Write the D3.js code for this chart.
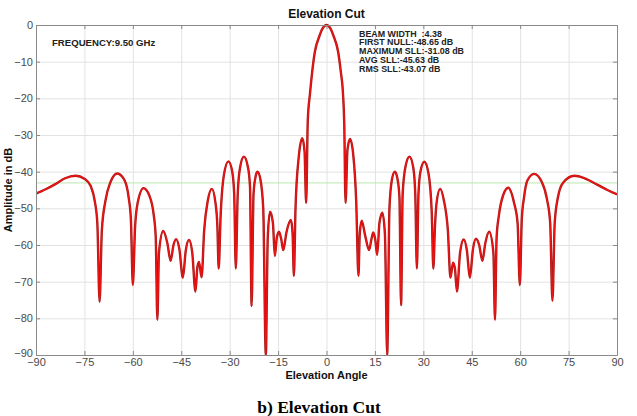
<!DOCTYPE html>
<html>
<head>
<meta charset="utf-8">
<script src="https://cdn.jsdelivr.net/npm/d3@7"></script>
<style>
  html, body { margin: 0; padding: 0; background: #fff; }
  svg { display: block; }
</style>
</head>
<body>
<svg id="chart" width="637" height="416"></svg>
<script>
// Elevation-cut radiation pattern: angle (deg) vs. normalised amplitude (dB)
const angles = [
  -90, -87, -84, -81, -77.7, -75, -73, -71.8, -71.0, -70.3, -69.6, -68.5, -67, -64.8, -62.5, -61.3, -60.6, -60.0,
  -59.3, -58.5, -56.7, -54.9, -53.5, -52.9, -52.4, -51.9, -50.6, -49.3, -48.3, -47.4, -46.6, -45.6, -44.5,
  -43.6, -42.6, -41.6, -40.6, -40.0, -39.5, -38.7, -37.9, -36.8, -35.5, -34.4, -33.8, -33.4, -32.8, -31.8,
  -30.4, -29.2, -28.6, -28.1, -27.5, -26.8, -25.6, -24.4, -23.7, -23.2, -22.6, -22.0, -21.4, -20.5, -19.6,
  -18.8, -18.2, -17.5, -16.6, -16.0, -15.4, -14.7, -14.0, -13.4, -12.4, -11.0, -10.5, -10.1, -9.6, -8.6,
  -7.5, -6.8, -6.3, -5.8, -5.1, -4.4, -3.6, -2.19, -1.2, 0,
  1.2, 2.19, 3.6, 4.4, 5.1, 5.5, 5.9, 6.5, 7.3, 8.3, 9.2, 9.9, 10.3, 10.9, 12.0, 13.2, 13.9, 14.5, 15.1,
  15.7, 16.4, 17.3, 18.1, 18.8, 19.5, 20.3, 21.2, 22.0, 22.6, 23.1, 23.6, 24.5, 25.7, 26.9, 27.5, 28.0,
  28.5, 29.1, 30.3, 31.6, 32.6, 33.1, 33.6, 34.1, 35.2, 36.4, 37.6, 38.4, 39.2, 39.8, 40.4, 41.4, 42.5,
  43.5, 44.4, 45.4, 46.3, 47.3, 48.3, 49.2, 50.4, 51.7, 52.2, 52.7, 53.4, 54.7, 56.3, 58.1, 59.2, 59.9,
  60.5, 61.2, 62.2, 64.3, 66.7, 68.3, 69.3, 70.0, 70.7, 71.7, 73.3, 76.8, 80, 84, 87, 90
];
const amplitudeDb = [
  -46.0, -44.8, -43.4, -41.8, -41.1, -41.9, -44.0, -48.0, -54.0, -75.5, -56.0, -48.0, -43.0, -40.5, -42.5, -47.0, -53.0, -70.9,
  -55.0, -48.5, -44.5, -46.5, -52.0, -58.0, -80.4, -62.0, -56.2, -59.5, -64.3, -60.0, -58.4, -61.0, -68.9,
  -61.5, -58.6, -62.0, -72.7, -66.0, -64.6, -68.8, -56.0, -48.0, -44.7, -48.5, -55.0, -66.4, -52.0, -41.0,
  -37.2, -40.0, -46.0, -66.4, -46.0, -39.0, -35.9, -38.5, -44.0, -76.6, -46.0, -41.5, -40.0, -42.0, -50.0,
  -90.0, -58.0, -50.9, -54.0, -63.0, -58.0, -56.4, -58.5, -61.4, -56.5, -53.2, -57.0, -68.4, -50.0, -36.0,
  -30.9, -34.5, -48.5, -26.0, -18.6, -12.5, -7.3, -3.0, -0.9, 0,
  -0.9, -3.0, -7.3, -12.5, -18.6, -27.0, -48.5, -34.0, -31.1, -35.5, -48.0, -68.4, -57.0, -53.4, -57.5, -61.4, -58.5, -56.6, -58.5,
  -62.7, -54.0, -51.2, -57.0, -90.0, -50.0, -42.0, -40.0, -42.0, -47.0, -76.4, -46.0, -38.5, -35.9, -39.0, -46.0, -66.4,
  -46.0, -40.0, -37.3, -40.5, -51.0, -66.4, -55.0, -48.5, -44.7, -48.0, -56.0, -68.9, -64.8, -66.5, -72.7, -62.0, -58.5,
  -61.5, -68.9, -61.0, -58.3, -60.0, -64.3, -59.5, -56.4, -62.0, -80.4, -58.0, -52.0, -46.5, -44.4, -48.5, -54.0, -70.9,
  -53.0, -47.0, -42.5, -40.6, -42.8, -47.5, -54.0, -75.2, -54.0, -47.0, -43.0, -41.1, -41.8, -43.6, -45.0, -46.2
];
const xTicks = [-90, -75, -60, -45, -30, -15, 0, 15, 30, 45, 60, 75, 90];
const yTicks = [0, -10, -20, -30, -40, -50, -60, -70, -80, -90];
const rmsSll = -43.07;
const infoLines = [
  "BEAM WIDTH  :4.38",
  "FIRST NULL:-48.65 dB",
  "MAXIMUM SLL:-31.08 dB",
  "AVG SLL:-45.63 dB",
  "RMS SLL:-43.07 dB"
];
const frequencyLabel = "FREQUENCY:9.50 GHz";

const svg = d3.select("#chart");
const plotL = 36, plotR = 617, plotT = 25, plotB = 355;
const x = d3.scaleLinear().domain([-90, 90]).range([plotL, plotR]);
const y = d3.scaleLinear().domain([-90, 0]).range([plotB, plotT]);

// grid
const grid = svg.append("g");
grid.append("g")
  .attr("transform", `translate(0,${plotB})`)
  .call(d3.axisBottom(x).tickValues(xTicks).tickSize(-(plotB - plotT)).tickFormat(""))
  .call(g => g.select(".domain").remove())
  .call(g => g.selectAll("line").attr("stroke", "#e2e2e2").attr("stroke-width", 1));
grid.append("g")
  .attr("transform", `translate(${plotL},0)`)
  .call(d3.axisLeft(y).tickValues(yTicks).tickSize(-(plotR - plotL)).tickFormat(""))
  .call(g => g.select(".domain").remove())
  .call(g => g.selectAll("line").attr("stroke", "#e2e2e2").attr("stroke-width", 1));

// RMS side-lobe level reference
svg.append("line")
  .attr("x1", x(-90)).attr("x2", x(90))
  .attr("y1", y(rmsSll)).attr("y2", y(rmsSll))
  .attr("stroke", "#b8e6ae").attr("stroke-width", 1);

// pattern
svg.append("clipPath").attr("id", "plotClip")
  .append("rect").attr("x", plotL).attr("y", plotT - 2).attr("width", plotR - plotL).attr("height", plotB - plotT + 2);

const pts = angles.map((a, i) => [a, amplitudeDb[i]]);
const line = d3.line().x(d => x(d[0])).y(d => y(d[1])).curve(d3.curveMonotoneX);
svg.append("path")
  .datum(pts)
  .attr("clip-path", "url(#plotClip)")
  .attr("fill", "none")
  .attr("stroke", "#b01818")
  .attr("stroke-width", 2.4)
  .attr("stroke-linejoin", "round")
  .attr("d", line);
svg.append("path")
  .datum(pts)
  .attr("clip-path", "url(#plotClip)")
  .attr("fill", "none")
  .attr("stroke", "#ee1414")
  .attr("stroke-width", 1.2)
  .attr("stroke-linejoin", "round")
  .attr("d", line);

// axes box with inward ticks
const axisColor = "#8a8a8a";
const styleAxis = g => {
  g.select(".domain").attr("stroke", axisColor);
  g.selectAll(".tick line").attr("stroke", axisColor);
  g.selectAll("text").attr("fill", "#4a4a4a").attr("font-family", "Arial, 'Liberation Sans', sans-serif").attr("font-size", 11);
};
svg.append("g")
  .attr("transform", `translate(0,${plotB})`)
  .call(d3.axisBottom(x).tickValues(xTicks).tickSizeInner(-4).tickSizeOuter(0).tickPadding(3))
  .call(styleAxis);
svg.append("g")
  .attr("transform", `translate(0,${plotT})`)
  .call(d3.axisTop(x).tickValues(xTicks).tickSizeInner(-4).tickSizeOuter(0).tickFormat(""))
  .call(styleAxis);
svg.append("g")
  .attr("transform", `translate(${plotL},0)`)
  .call(d3.axisLeft(y).tickValues(yTicks).tickSizeInner(-4).tickSizeOuter(0).tickPadding(3))
  .call(styleAxis)
  .call(g => g.selectAll(".tick text").filter(d => d === -90).attr("dy", "0.1em"));
svg.append("g")
  .attr("transform", `translate(${plotR},0)`)
  .call(d3.axisRight(y).tickValues(yTicks).tickSizeInner(-4).tickSizeOuter(0).tickFormat(""))
  .call(styleAxis);

// titles
const sans = "Arial, 'Liberation Sans', sans-serif";
svg.append("text")
  .attr("x", (plotL + plotR) / 2).attr("y", 18)
  .attr("text-anchor", "middle")
  .attr("font-family", sans).attr("font-weight", "bold").attr("font-size", 12)
  .attr("fill", "#111")
  .text("Elevation Cut");
svg.append("text")
  .attr("x", (plotL + plotR) / 2).attr("y", 379)
  .attr("text-anchor", "middle")
  .attr("font-family", sans).attr("font-weight", "bold").attr("font-size", 11)
  .attr("fill", "#111")
  .text("Elevation Angle");
svg.append("text")
  .attr("transform", `translate(12,${(plotT + plotB) / 2}) rotate(-90)`)
  .attr("text-anchor", "middle")
  .attr("font-family", sans).attr("font-weight", "bold").attr("font-size", 11)
  .attr("fill", "#111")
  .text("Amplitude in dB");

// annotations
svg.append("text")
  .attr("x", 52).attr("y", 46)
  .attr("font-family", sans).attr("font-weight", "bold").attr("font-size", 9.6)
  .attr("fill", "#222")
  .text(frequencyLabel);
svg.append("g")
  .selectAll("text")
  .data(infoLines)
  .join("text")
  .attr("x", 359).attr("y", (d, i) => 36.5 + i * 8.8)
  .attr("font-family", sans).attr("font-weight", "bold").attr("font-size", 8.9)
  .attr("fill", "#222")
  .style("white-space", "pre")
  .text(d => d);

// caption
svg.append("text")
  .attr("x", 319).attr("y", 413)
  .attr("text-anchor", "middle")
  .attr("font-family", "'Times New Roman', 'Liberation Serif', serif").attr("font-weight", "bold").attr("font-size", 17.5)
  .attr("fill", "#000")
  .text("b) Elevation Cut");
</script>
</body>
</html>
